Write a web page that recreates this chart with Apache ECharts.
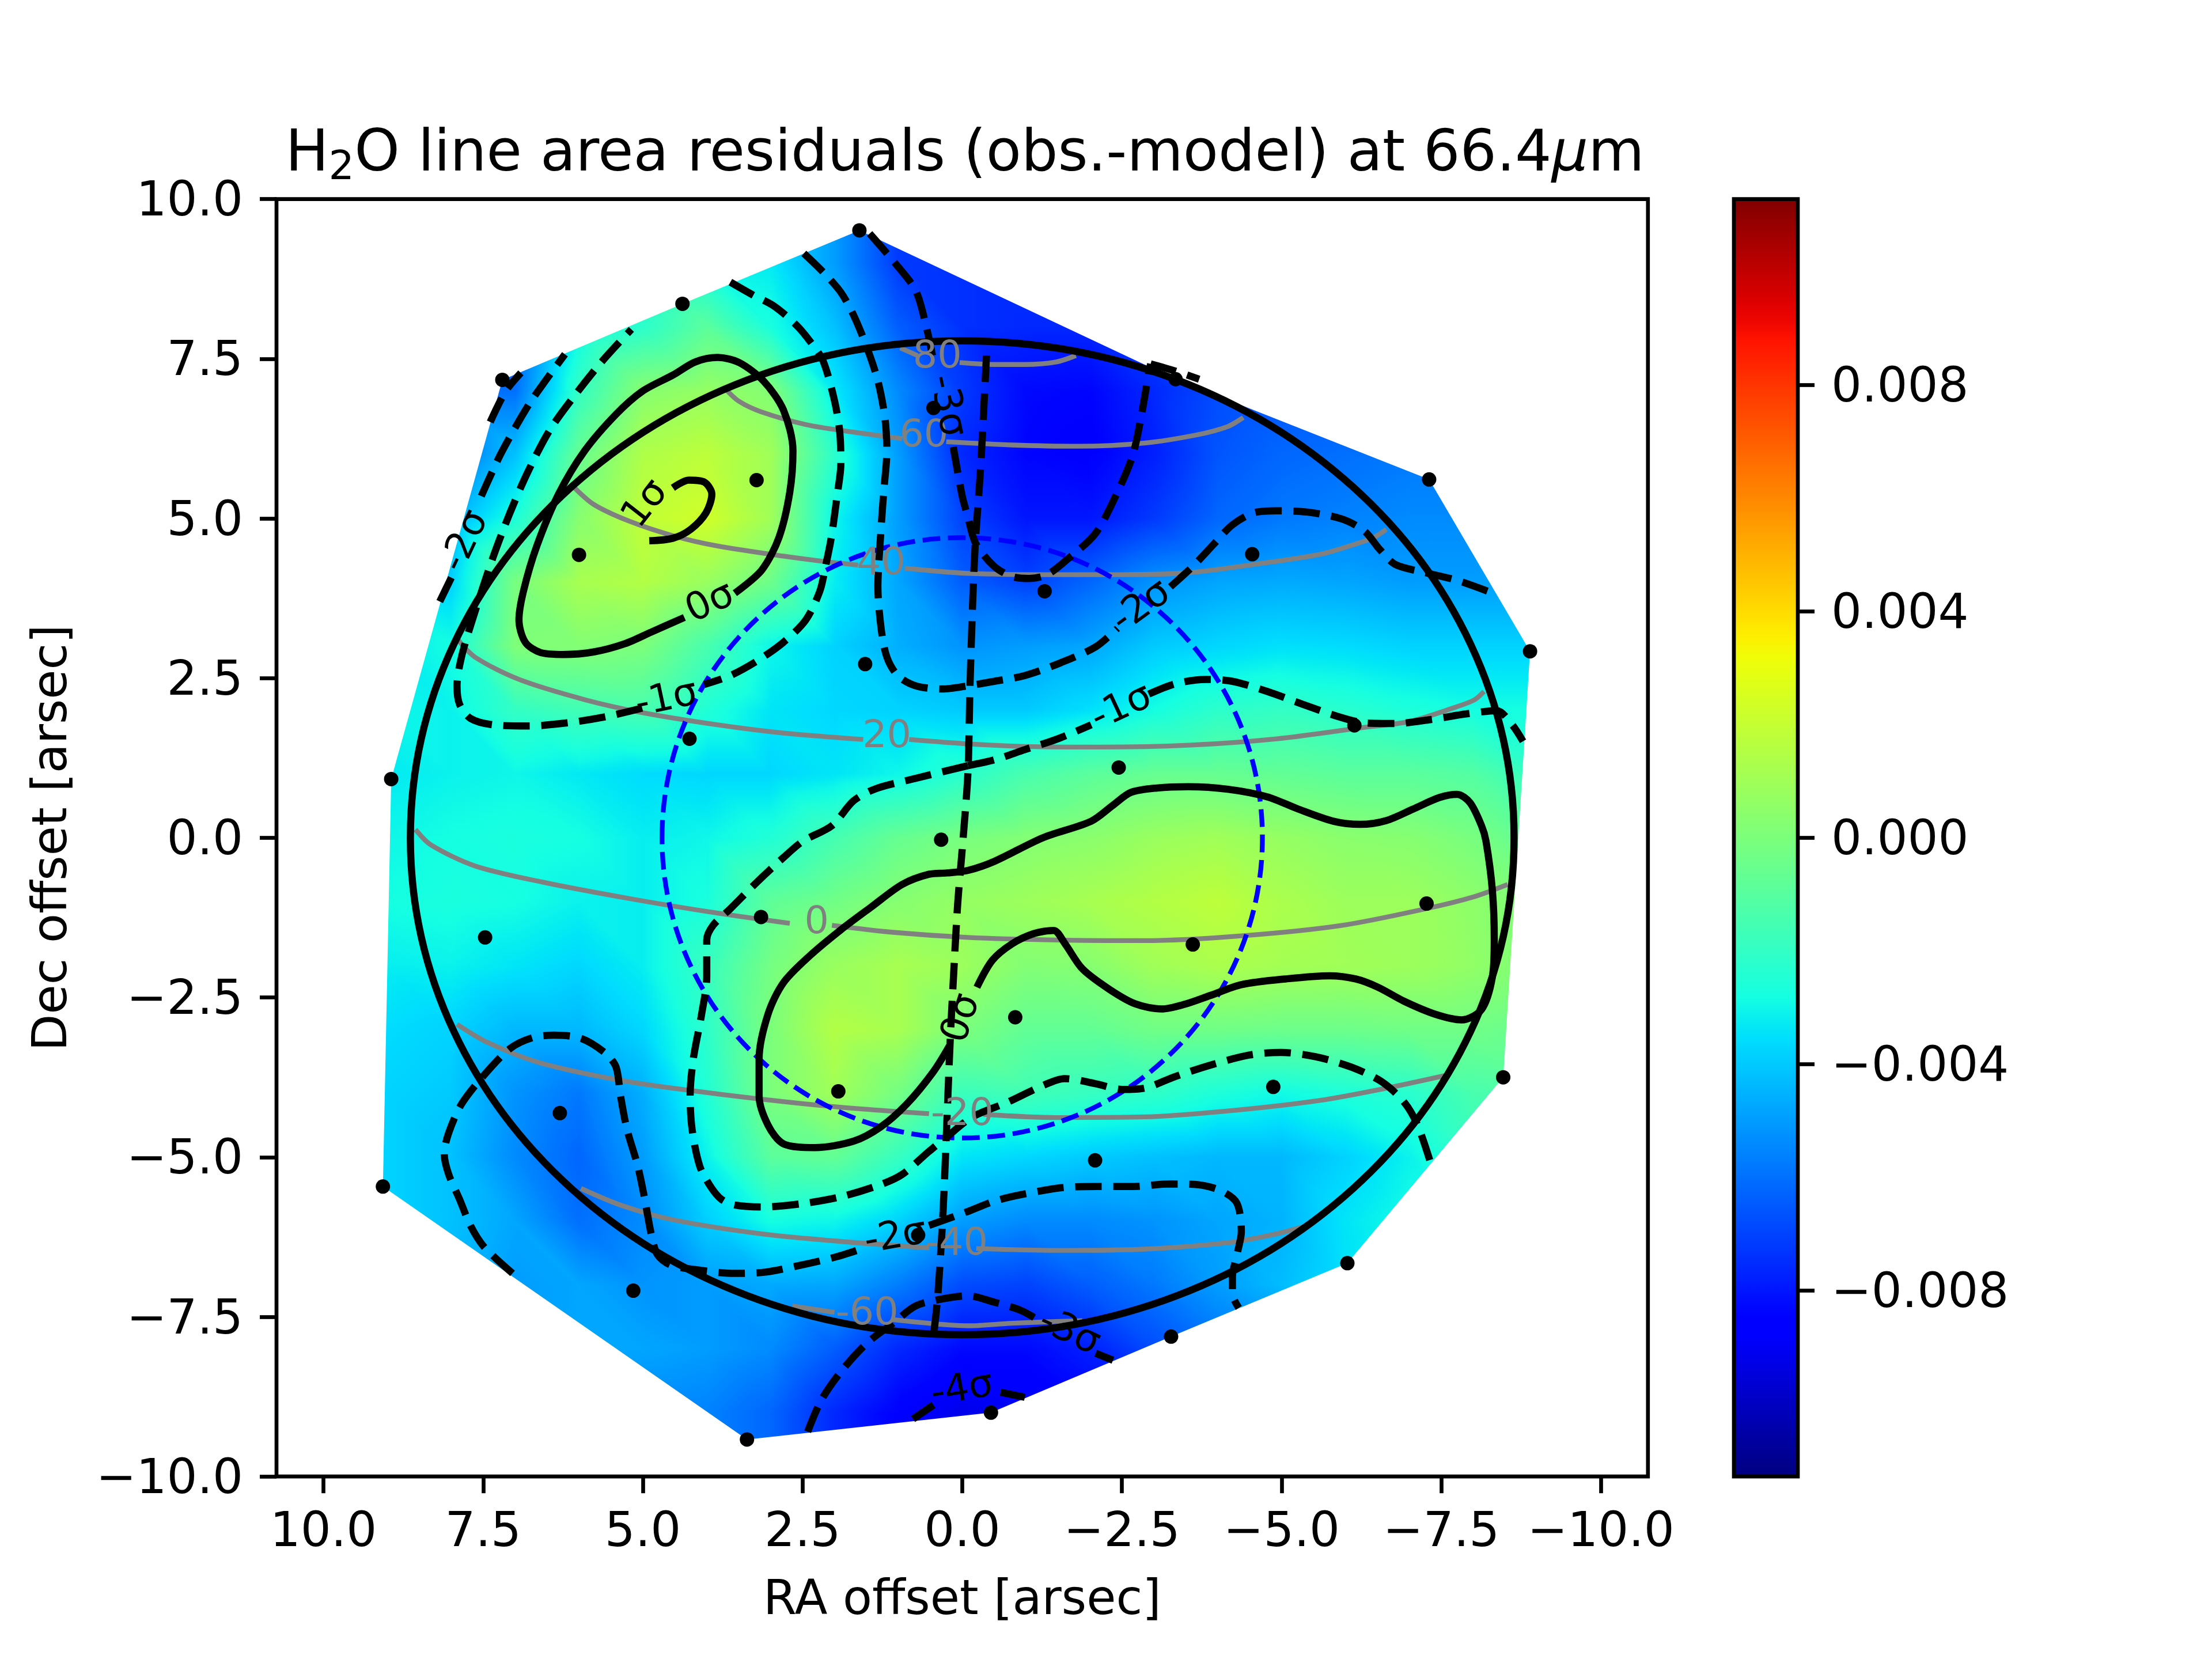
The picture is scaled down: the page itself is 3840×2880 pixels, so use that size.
<!DOCTYPE html>
<html lang="en">
<head>
    <title>H2O line area residuals</title>
    <meta charset="utf-8">
    <style>
        html, body { margin: 0; padding: 0; background: #fff; }
        #chart { width: 3840px; height: 2880px; }
    </style>
    <script src="https://cdn.jsdelivr.net/npm/echarts@6/dist/echarts.min.js"></script>
</head>
<body>
    <div id="chart"></div>
    <script type="text/javascript">
        var axisTicks = [10, 7.5, 5, 2.5, 0, -2.5, -5, -7.5, -10];
        var colorTicks = [0.008, 0.004, 0, -0.004, -0.008];
        var colorLimit = 0.01129;
        var xLimit = 10.736;
        var yLimit = 10;

        //field, units of 1e-4, rows y=10..-10, columns x=10..-10
        var fieldX = [10, 9, 8, 7, 6, 5, 4, 3, 2, 1, 0, -1, -2, -3, -4, -5, -6, -7, -8, -9, -10];
        var fieldY = [10, 9, 8, 7, 6, 5, 4, 3, 2, 1, 0, -1, -2, -3, -4, -5, -6, -7, -8, -9, -10];
        var fieldValues = [
            [-28,-28,-28,-28,-28,-28,-30,-33,-50,-72,-74,-74,-74,-74,-74,-74,-74,-74,-74,-74,-74],
            [-28,-28,-28,-28,-28,-28,-30,-33,-50,-72,-74,-74,-74,-74,-74,-74,-74,-74,-74,-74,-74],
            [-65,-65,-65,-65,-30,-22,-9,-27,-42,-64,-74,-76,-76,-70,-70,-70,-70,-70,-70,-70,-70],
            [-60,-60,-60,-60,-20,3,7,2,-33,-54,-72,-83,-84,-76,-68,-66,-66,-66,-66,-66,-66],
            [-60,-60,-60,-42,-6,14,18,10,-22,-50,-76,-84,-86,-78,-66,-62,-60,-58,-58,-58,-58],
            [-50,-50,-45,-26,3,19,23,10,-30,-50,-70,-80,-80,-72,-62,-58,-56,-54,-54,-54,-54],
            [-35,-35,-38,-1,12,15,8,-4,-32,-48,-64,-70,-62,-52,-48,-47,-48,-50,-50,-48,-48],
            [-33,-33,-28,1,2,0,-14,-30,-38,-46,-52,-50,-48,-40,-37,-35,-36,-38,-38,-38,-38],
            [-30,-30,-31,-20,-16,-14,-25,-34,-37,-38,-40,-40,-35,-28,-22,-20,-23,-26,-28,-28,-28],
            [-33,-33,-31,-30,-33,-36,-37,-37,-34,-30,-23,-14,-9,-6,-6,-7,-9,-9,-11,-20,-20],
            [-30,-30,-28,-27,-28,-32,-30,-25,-15,-6,-1,2,4,8,10,7,4,3,-1,-8,-8],
            [-28,-28,-27,-28,-31,-32,-27,-8,-3,3,7,9,12,15,18,13,9,9,5,0,0],
            [-32,-32,-31,-34,-37,-32,-19,-2,8,12,9,2,3,10,13,11,10,9,6,0,0],
            [-36,-36,-38,-44,-44,-37,-22,0,15,12,0,-7,-7,-3,-3,-4,-4,-3,-3,-6,-6],
            [-38,-38,-40,-52,-58,-46,-25,0,10,-2,-18,-16,-19,-21,-26,-29,-26,-23,-14,-12,-12],
            [-38,-38,-42,-54,-62,-50,-31,-9,-7,-19,-34,-37,-40,-42,-44,-44,-38,-31,-20,-20,-20],
            [-38,-38,-42,-48,-60,-54,-39,-28,-30,-38,-50,-54,-54,-52,-48,-45,-34,-28,-25,-25,-25],
            [-45,-45,-45,-50,-48,-52,-50,-47,-48,-57,-68,-70,-64,-58,-50,-43,-35,-30,-28,-28,-28],
            [-48,-48,-48,-48,-48,-48,-50,-54,-64,-76,-83,-83,-78,-68,-60,-55,-50,-50,-50,-50,-50],
            [-56,-56,-56,-56,-56,-56,-56,-62,-76,-86,-92,-90,-85,-80,-75,-70,-70,-70,-70,-70,-70],
            [-56,-56,-56,-56,-56,-56,-56,-62,-76,-86,-92,-90,-85,-80,-75,-70,-70,-70,-70,-70,-70]
        ];

        var fibrePoints = [
            [1.61,9.51],[4.38,8.36],[7.20,7.17],[3.22,5.60],[6.00,4.43],[1.52,2.72],[4.27,1.55],[8.94,0.92],[0.45,6.73],[0.33,-0.03],
            [-7.31,5.61],[-4.54,4.44],[-1.29,3.86],[-3.34,7.18],[-8.89,2.92],[-6.14,1.76],[-2.45,1.10],
            [7.47,-1.56],[3.15,-1.24],[6.30,-4.31],[9.07,-5.46],[1.94,-3.97],[5.15,-7.09],[3.37,-9.42],[0.69,-6.22],
            [-7.27,-1.03],[-3.61,-1.67],[-0.83,-2.81],[-4.87,-3.90],[-8.47,-3.75],[-2.08,-5.05],[-6.03,-6.66],[-3.27,-7.81],[-0.45,-9.00]
        ];
        var hullPoints = [
            [1.61,9.51],[-3.34,7.18],[-7.31,5.61],[-8.89,2.92],[-8.47,-3.75],[-6.03,-6.66],[-3.27,-7.81],[-0.45,-9.00],[3.37,-9.42],[9.07,-5.46],[8.94,0.92],[7.20,7.17],[4.38,8.36]
        ];
        var limbEllipse = [8.64, 7.78];
        var beamCircle = [4.7, 4.7];

        var solidContours = [
            [[3.56,3.83],[3.14,4.19],[2.87,4.70],[2.70,5.41],[2.65,6.06],[2.80,6.70],[3.11,7.15],[3.49,7.44],[3.83,7.52],[4.18,7.45],[4.52,7.25],[5.01,6.99],[5.42,6.63],[5.91,6.06],[6.32,5.38],[6.66,4.57],[6.87,3.86],[6.94,3.41],[6.84,3.06],[6.60,2.90],[6.25,2.87],[5.77,2.91],[5.28,3.04],[4.87,3.22],[4.35,3.45]],
            [[4.53,5.48],[4.28,5.60],[4.04,5.57],[3.92,5.38],[4.01,5.09],[4.25,4.83],[4.53,4.69],[4.90,4.65]],
            [[0.19,-3.24],[0.45,-3.66],[0.87,-4.17],[1.28,-4.53],[1.70,-4.75],[2.31,-4.85],[2.80,-4.79],[3.04,-4.50],[3.18,-4.04],[3.18,-3.46],[3.04,-2.76],[2.80,-2.27],[2.39,-1.85],[1.90,-1.44],[1.42,-1.08],[0.94,-0.73],[0.52,-0.57],[0.24,-0.55],[-0.09,-0.51],[-0.50,-0.37],[-1.26,0.00],[-2.02,0.26],[-2.36,0.51],[-2.64,0.71],[-3.05,0.78],[-3.54,0.80],[-4.16,0.76],[-4.78,0.64],[-5.26,0.45],[-5.81,0.26],[-6.23,0.21],[-6.64,0.27],[-7.06,0.45],[-7.47,0.63],[-7.75,0.68],[-7.95,0.55],[-8.13,0.19],[-8.20,-0.05],[-8.30,-0.82],[-8.33,-1.60],[-8.30,-2.18],[-8.13,-2.69],[-7.82,-2.85],[-7.40,-2.76],[-6.92,-2.56],[-6.51,-2.34],[-6.16,-2.21],[-5.75,-2.16],[-5.06,-2.21],[-4.37,-2.30],[-3.88,-2.47],[-3.47,-2.61],[-3.12,-2.68],[-2.71,-2.60],[-2.30,-2.37],[-1.88,-2.05],[-1.61,-1.66],[-1.43,-1.45],[-1.12,-1.50],[-0.78,-1.66],[-0.47,-1.92],[-0.23,-2.34]]
        ];
        var dashedContours = [
            //-1 sigma upper left
            [[3.63,8.70],[3.28,8.50],[2.94,8.32],[2.59,8.02],[2.35,7.73],[2.18,7.47],[2.01,6.89],[1.92,6.38],[1.90,5.86],[1.96,5.35],[2.05,4.70],[2.14,4.25],[2.23,3.86],[2.45,3.41],[2.80,3.06],[3.21,2.77],[3.63,2.54],[4.04,2.40]],
            [[5.01,2.03],[5.56,1.90],[6.18,1.80],[6.80,1.75],[7.35,1.77],[7.70,1.87],[7.87,2.09],[7.91,2.38],[7.84,2.83],[7.67,3.41],[7.35,4.38],[7.08,5.09],[6.80,5.73],[6.46,6.38],[6.04,6.96],[5.63,7.47],[5.18,7.96]],
            //-2 sigma upper left and corner
            [[8.18,3.70],[7.99,4.09]],
            [[7.53,5.35],[7.22,6.02],[6.80,6.76],[6.53,7.15],[6.22,7.57]],
            [[7.39,6.51],[7.15,6.99],[6.91,7.28]],
            //-2 sigma top and right
            [[2.48,9.15],[2.18,8.86],[1.90,8.54],[1.70,8.18],[1.49,7.67],[1.32,7.15],[1.21,6.57],[1.18,6.06],[1.23,5.41],[1.28,4.70],[1.32,3.93],[1.27,3.28],[1.18,2.83],[1.01,2.54],[0.73,2.38],[0.31,2.33],[-0.09,2.38],[-0.50,2.45],[-0.98,2.54],[-1.54,2.74],[-2.09,2.99],[-2.43,3.28]],
            [[-3.26,3.93],[-3.61,4.25],[-3.95,4.61],[-4.23,4.90],[-4.57,5.09],[-4.92,5.12],[-5.40,5.10],[-5.95,4.99],[-6.30,4.80],[-6.54,4.51],[-6.78,4.28],[-7.26,4.15],[-7.75,4.03],[-8.23,3.86]],
            //-3 sigma top
            [[1.45,9.46],[1.07,9.02],[0.73,8.57],[0.56,7.99],[0.45,7.47]],
            [[0.14,6.12],[0.00,5.35],[-0.09,5.02],[-0.21,4.61],[-0.50,4.25],[-0.78,4.09],[-1.05,4.06],[-1.33,4.12],[-1.67,4.38],[-2.09,4.77],[-2.43,5.41],[-2.67,5.99],[-2.81,6.64],[-2.92,7.28],[-2.95,7.42]],
            [[-2.95,7.42],[-3.33,7.31],[-3.71,7.18]],
            //meridian
            [[-0.38,7.55],[-0.33,6.57],[-0.28,5.67],[-0.21,4.70],[-0.17,3.86],[-0.12,2.32],[-0.09,1.03],[0.00,-0.18],[0.07,-1.02],[0.14,-2.24],[0.19,-3.21],[0.25,-4.69],[0.30,-5.85],[0.38,-7.14],[0.44,-7.72]],
            //-1 sigma right and centre
            [[-0.09,1.13],[-0.50,1.22],[-0.98,1.38],[-1.47,1.54],[-2.02,1.77]],
            [[-2.92,2.25],[-3.33,2.41],[-3.81,2.48],[-4.23,2.45],[-4.78,2.29],[-5.33,2.09],[-5.88,1.90],[-6.30,1.80],[-6.78,1.79],[-7.33,1.85],[-7.89,1.94],[-8.37,1.99],[-8.61,1.77],[-8.78,1.51]],
            [[-0.09,1.13],[0.73,0.93],[1.35,0.77],[1.70,0.58],[2.04,0.19],[2.49,-0.05],[2.80,-0.31],[3.21,-0.69],[3.63,-1.11],[3.90,-1.37],[4.00,-1.60],[4.00,-2.18],[4.08,-2.76],[4.21,-3.46],[4.26,-4.04],[4.23,-4.56],[4.11,-5.14],[3.94,-5.46],[3.77,-5.66],[3.56,-5.75],[3.14,-5.78],[2.52,-5.73],[1.90,-5.62],[1.28,-5.43],[0.94,-5.27],[0.52,-4.91],[0.25,-4.69],[-0.16,-4.37],[-0.71,-4.14],[-1.26,-3.88],[-1.60,-3.77],[-2.09,-3.85],[-2.50,-3.94],[-2.85,-3.92],[-3.33,-3.74],[-3.88,-3.56],[-4.50,-3.40],[-4.99,-3.36],[-5.54,-3.43],[-6.09,-3.59],[-6.57,-3.82],[-6.92,-4.14],[-7.13,-4.50],[-7.33,-5.08]],
            //-2 sigma lower
            [[7.04,-6.82],[7.49,-6.40],[7.70,-6.07],[7.87,-5.66],[8.04,-5.27],[8.11,-4.95],[8.04,-4.62],[7.84,-4.17],[7.49,-3.72],[7.08,-3.30],[6.73,-3.13],[6.39,-3.09],[5.97,-3.14],[5.59,-3.37],[5.42,-3.59],[5.35,-4.04],[5.25,-4.56],[5.08,-5.14],[4.97,-5.66],[4.87,-6.20],[4.77,-6.53],[4.56,-6.69],[4.18,-6.76],[3.56,-6.82],[3.08,-6.80],[2.52,-6.69],[1.97,-6.56],[1.56,-6.43]],
            [[0.52,-6.07],[-0.09,-5.85],[-0.50,-5.69],[-0.91,-5.59],[-1.54,-5.48],[-2.09,-5.46],[-2.64,-5.46],[-3.26,-5.42],[-3.68,-5.43],[-4.06,-5.53],[-4.30,-5.72],[-4.37,-6.17],[-4.31,-6.49],[-4.23,-6.88],[-4.23,-7.14],[-4.33,-7.36]],
            //-3 sigma bottom
            [[2.42,-9.30],[2.21,-8.81],[1.90,-8.36],[1.49,-7.91],[1.07,-7.59],[0.73,-7.33],[0.31,-7.22],[-0.09,-7.17],[-0.50,-7.27],[-0.92,-7.40],[-1.26,-7.59]],
            [[-2.09,-8.07],[-2.36,-8.18]],
            //-4 sigma
            [[0.77,-9.10],[0.45,-8.88]],
            [[-0.60,-8.68],[-0.98,-8.76]]
        ];
        var latitudeLines = [
            [[0.97,7.67],[0.70,7.55]],
            [[0.04,7.44],[-0.50,7.41],[-0.98,7.41],[-1.47,7.45],[-1.78,7.55]],
            [[3.70,7.02],[3.49,6.83],[3.15,6.67],[2.45,6.47],[1.77,6.36],[0.94,6.25]],
            [[0.25,6.20],[-0.78,6.15],[-1.81,6.13],[-2.85,6.18],[-3.68,6.31],[-4.16,6.44],[-4.40,6.58]],
            [[6.10,5.51],[5.77,5.22],[5.22,4.96],[4.53,4.73],[3.84,4.57],[2.80,4.41],[2.11,4.32],[1.63,4.27]],
            [[0.90,4.22],[-0.09,4.14],[-1.47,4.12],[-2.50,4.12],[-3.54,4.15],[-4.57,4.28],[-5.61,4.44],[-6.16,4.60],[-6.44,4.70],[-6.64,4.83]],
            [[7.91,3.12],[7.63,2.83],[6.94,2.48],[5.90,2.16],[5.01,1.96],[3.84,1.77],[2.80,1.64],[1.55,1.54]],
            [[0.83,1.54],[-0.09,1.47],[-0.98,1.43],[-2.16,1.42],[-3.54,1.45],[-4.92,1.55],[-6.30,1.73],[-7.00,1.82],[-7.68,2.03],[-8.02,2.16],[-8.17,2.29]],
            [[8.56,0.13],[8.32,-0.11],[7.63,-0.44],[6.59,-0.69],[5.22,-0.95],[3.83,-1.18],[2.70,-1.34]],
            [[2.04,-1.37],[1.08,-1.48],[-0.09,-1.56],[-1.47,-1.60],[-2.85,-1.61],[-4.43,-1.53],[-5.95,-1.37],[-7.26,-1.11],[-8.02,-0.92],[-8.54,-0.73]],
            [[7.91,-2.92],[7.42,-3.21],[6.59,-3.53],[5.22,-3.82],[3.83,-4.01],[2.11,-4.20],[0.52,-4.32]],
            [[-0.33,-4.33],[-1.47,-4.38],[-2.85,-4.37],[-4.23,-4.27],[-5.61,-4.11],[-6.64,-3.92],[-7.57,-3.72]],
            [[5.97,-5.49],[5.35,-5.75],[4.53,-5.98],[3.15,-6.20],[1.77,-6.33],[0.52,-6.42]],
            [[-0.22,-6.43],[-1.47,-6.46],[-2.85,-6.44],[-4.23,-6.33],[-4.92,-6.20],[-5.40,-6.07]],
            [[2.66,-7.33],[2.00,-7.43]],
            [[1.11,-7.54],[-0.09,-7.64],[-0.78,-7.60],[-1.88,-7.56]]
        ];
        var sigmaLabels = [
            [3.94,3.67,"0σ",25],[4.95,5.22,"1σ",52],[4.63,2.16,"-1σ",12],[7.77,4.64,"-2σ",65],[0.25,6.76,"-3σ",-78],
            [-2.81,3.61,"-2σ",36],[-2.50,2.03,"-1σ",25],[0.00,-2.83,"0σ",72],[1.04,-6.26,"-2σ",10],[-1.67,-7.75,"-3σ",-25],[0.00,-8.65,"-4σ",10]
        ];
        var latitudeLabels = [
            [0.39,7.52,"80",0],[0.60,6.28,"60",0],[1.27,4.28,"40",0],[1.18,1.58,"20",0],[2.28,-1.34,"0",0],
            [0.00,-4.34,"-20",0],[0.09,-6.37,"-40",0],[1.49,-7.46,"-60",0]
        ];

        var FONT = "DejaVu Sans";

        function jetChannel(t, pts) {
            for (var i = 1; i < pts.length; i++) {
                if (t <= pts[i][0]) {
                    return pts[i - 1][1] + (pts[i][1] - pts[i - 1][1]) * (t - pts[i - 1][0]) / (pts[i][0] - pts[i - 1][0]);
                }
            }
            return pts[pts.length - 1][1];
        }
        var JET_R = [[0, 0], [0.35, 0], [0.66, 1], [0.89, 1], [1, 0.5]];
        var JET_G = [[0, 0], [0.125, 0], [0.375, 1], [0.64, 1], [0.91, 0], [1, 0]];
        var JET_B = [[0, 0.5], [0.11, 1], [0.34, 1], [0.65, 0], [1, 0]];
        function jet(t) {
            t = Math.max(0, Math.min(1, t));
            return "rgb(" + Math.round(255 * jetChannel(t, JET_R)) + "," + Math.round(255 * jetChannel(t, JET_G)) + "," + Math.round(255 * jetChannel(t, JET_B)) + ")";
        }
        function fieldColor(v) {
            return jet((v * 1e-4 + colorLimit) / (2 * colorLimit));
        }

        //triangle with a linear gradient along its value slope
        function shadedTriangle(p, v) {
            var lo = 0, hi = 0;
            for (var k = 1; k < 3; k++) {
                if (v[k] < v[lo]) lo = k;
                if (v[k] > v[hi]) hi = k;
            }
            var fill;
            if (v[hi] === v[lo]) {
                fill = fieldColor(v[lo]);
            } else {
                var ax = p[1][0] - p[0][0], ay = p[1][1] - p[0][1];
                var bx = p[2][0] - p[0][0], by = p[2][1] - p[0][1];
                var dv1 = v[1] - v[0], dv2 = v[2] - v[0];
                var det = ax * by - ay * bx;
                var gx = (dv1 * by - dv2 * ay) / det;
                var gy = (ax * dv2 - bx * dv1) / det;
                var span = (v[hi] - v[lo]) / (gx * gx + gy * gy);
                var stops = [];
                for (var s = 0; s <= 6; s++) {
                    stops.push({ offset: s / 6, color: fieldColor(v[lo] + (v[hi] - v[lo]) * s / 6) });
                }
                fill = new echarts.graphic.LinearGradient(p[lo][0], p[lo][1], p[lo][0] + gx * span, p[lo][1] + gy * span, stops, true);
            }
            return { type: "polygon", silent: true, shape: { points: p }, style: { fill: fill, stroke: fill, lineWidth: 1.5 } };
        }

        var fieldCells = [];
        for (var row = 0; row < fieldY.length - 1; row++) {
            for (var col = 0; col < fieldX.length - 1; col++) {
                fieldCells.push([fieldX[col], fieldY[row], col, row]);
            }
        }

        function renderCell(params, api) {
            var c = api.value(2), r = api.value(3);
            var p00 = api.coord([fieldX[c], fieldY[r]]);
            var p10 = api.coord([fieldX[c + 1], fieldY[r]]);
            var p01 = api.coord([fieldX[c], fieldY[r + 1]]);
            var p11 = api.coord([fieldX[c + 1], fieldY[r + 1]]);
            var v00 = fieldValues[r][c], v10 = fieldValues[r][c + 1], v01 = fieldValues[r + 1][c], v11 = fieldValues[r + 1][c + 1];
            return {
                type: "group",
                children: [
                    shadedTriangle([p00, p10, p11], [v00, v10, v11]),
                    shadedTriangle([p00, p11, p01], [v00, v11, v01])
                ]
            };
        }

        //white everywhere outside the hull
        function renderMask(params, api) {
            var corners = [[xLimit, yLimit], [xLimit, -yLimit], [-xLimit, -yLimit], [-xLimit, yLimit], [xLimit, yLimit]];
            var pts = corners.concat(hullPoints).concat([hullPoints[0], corners[0]]).map(function (d) { return api.coord(d); });
            return { type: "polygon", silent: true, shape: { points: pts }, style: { fill: "#fff" } };
        }

        function ellipseSeries(radii, color, width, dash, z) {
            return {
                type: "custom", z: z, silent: true, data: [[0, 0]],
                renderItem: function (params, api) {
                    var c = api.coord([0, 0]);
                    var e = api.coord([radii[0], radii[1]]);
                    return {
                        type: "ellipse",
                        shape: { cx: c[0], cy: c[1], rx: Math.abs(e[0] - c[0]), ry: Math.abs(e[1] - c[1]) },
                        style: { fill: "none", stroke: color, lineWidth: width, lineDash: dash }
                    };
                }
            };
        }

        function lineSeries(segments, color, width, dash, z) {
            return segments.map(function (seg) {
                return {
                    type: "line", data: seg, z: z, smooth: 0.3, showSymbol: false, silent: true,
                    lineStyle: { color: color, width: width, type: dash, cap: "butt" }
                };
            });
        }

        function textSeries(labels, color, z) {
            return {
                type: "custom", z: z, silent: true,
                data: labels.map(function (d) { return [d[0], d[1]]; }),
                renderItem: function (params, api) {
                    var p = api.coord([api.value(0), api.value(1)]);
                    var d = labels[params.dataIndex];
                    return {
                        type: "text", x: p[0], y: p[1], rotation: d[3] * Math.PI / 180,
                        style: { text: d[2], fill: color, fontSize: 66.67, fontFamily: FONT, align: "center", verticalAlign: "middle" }
                    };
                }
            };
        }

        //axes frame drawn over the mask
        function frameSeries(xIdx, yIdx, x0, x1, y0, y1) {
            return {
                type: "custom", z: 20, silent: true, xAxisIndex: xIdx, yAxisIndex: yIdx, data: [[x0, y0]],
                renderItem: function (params, api) {
                    var a = api.coord([x0, y1]), b = api.coord([x1, y0]);
                    return {
                        type: "rect",
                        shape: { x: a[0], y: a[1], width: b[0] - a[0], height: b[1] - a[1] },
                        style: { fill: "none", stroke: "#000", lineWidth: 6.67 }
                    };
                }
            };
        }

        function tickText(v, digits) {
            return v.toFixed(digits).replace("-", "\u2212");
        }

        var tickFont = { color: "#000", fontSize: 83.3, fontFamily: FONT };
        //labels of the vertical axes sit a little lower than ECharts centres them
        var yTickRich = {
            v: { color: "#000", fontSize: 83.3, fontFamily: FONT, lineHeight: 97, verticalAlign: "top", padding: [14, 0, 0, 0] }
        };

        var series = [
            { type: "custom", z: 1, silent: true, progressive: 0, data: fieldCells, renderItem: renderCell },
            { type: "custom", z: 2, silent: true, data: [[0, 0]], renderItem: renderMask },
            {
                type: "custom", z: 2, silent: true, xAxisIndex: 1, yAxisIndex: 1, data: [[0, 0]],
                renderItem: function (params, api) {
                    var a = api.coord([0, colorLimit]), b = api.coord([1, -colorLimit]);
                    var stops = [];
                    for (var i = 0; i <= 64; i++) {
                        stops.push({ offset: i / 64, color: jet(1 - i / 64) });
                    }
                    return {
                        type: "rect",
                        shape: { x: a[0], y: a[1], width: b[0] - a[0], height: b[1] - a[1] },
                        style: { fill: new echarts.graphic.LinearGradient(0, 0, 0, 1, stops) }
                    };
                }
            }
        ];
        series = series.concat(lineSeries(latitudeLines, "#808080", 8.33, "solid", 3));
        series.push(ellipseSeries(beamCircle, "#0000ff", 8.33, [30.8, 13.3], 4));
        series = series.concat(lineSeries(solidContours, "#000", 12.5, "solid", 5));
        series = series.concat(lineSeries(dashedContours, "#000", 12.5, [46, 20], 5));
        series.push(ellipseSeries(limbEllipse, "#000", 12.5, null, 5));
        series.push({
            type: "scatter", z: 6, silent: true, data: fibrePoints, symbolSize: 25,
            itemStyle: { color: "#000", opacity: 1 }
        });
        series.push(textSeries(latitudeLabels, "#808080", 7));
        series.push(textSeries(sigmaLabels, "#000", 7));
        series.push(frameSeries(0, 0, -xLimit, xLimit, -yLimit, yLimit));
        series.push(frameSeries(1, 1, 0, 1, -colorLimit, colorLimit));

        var option = {
            animation: false,
            backgroundColor: "#fff",
            title: {
                left: 1670, top: 193, textAlign: "center",
                text: "{a|H}{s|2}{a|O line area residuals (obs.-model) at 66.4}{i|\u03bc}{a|m}",
                textStyle: {
                    fontWeight: "normal",
                    rich: {
                        a: { fontSize: 100, fontFamily: FONT, fontWeight: "normal", color: "#000", lineHeight: 130, verticalAlign: "bottom", padding: [0, 0, 8, 0] },
                        i: { fontSize: 100, fontFamily: FONT, fontWeight: "normal", fontStyle: "italic", color: "#000", lineHeight: 130, verticalAlign: "bottom", padding: [0, 0, 8, 0] },
                        s: { fontSize: 70, fontFamily: FONT, fontWeight: "normal", color: "#000", lineHeight: 130, verticalAlign: "bottom" }
                    }
                }
            },
            grid: [
                { left: 480, top: 345.6, width: 2380.8, height: 2217.6 },
                { left: 3010, top: 345.6, width: 111, height: 2217.6 }
            ],
            xAxis: [
                {
                    type: "value", inverse: true, min: -xLimit, max: xLimit,
                    name: "RA offset [arsec]", nameLocation: "middle", nameGap: 176,
                    nameTextStyle: tickFont,
                    axisLine: { show: false, onZero: false }, splitLine: { show: false },
                    axisTick: { show: true, length: 29, customValues: axisTicks, lineStyle: { color: "#000", width: 6.67 } },
                    axisLabel: Object.assign({ margin: 58, customValues: axisTicks, formatter: function (v) { return tickText(v, 1); } }, tickFont)
                },
                { gridIndex: 1, type: "value", min: 0, max: 1, show: false }
            ],
            yAxis: [
                {
                    type: "value", min: -yLimit, max: yLimit,
                    name: "Dec offset [arsec]", nameLocation: "middle", nameGap: 345, nameRotate: 90,
                    nameTextStyle: tickFont,
                    axisLine: { show: false, onZero: false }, splitLine: { show: false },
                    axisTick: { show: true, length: 29, customValues: axisTicks, lineStyle: { color: "#000", width: 6.67 } },
                    axisLabel: { margin: 58, rich: yTickRich, customValues: axisTicks, formatter: function (v) { return "{v|" + tickText(v, 1) + "}"; } }
                },
                {
                    gridIndex: 1, type: "value", position: "right", min: -colorLimit, max: colorLimit,
                    axisLine: { show: false, onZero: false }, splitLine: { show: false },
                    axisTick: { show: true, length: 29, customValues: colorTicks, lineStyle: { color: "#000", width: 6.67 } },
                    axisLabel: { margin: 58, rich: yTickRich, customValues: colorTicks, formatter: function (v) { return "{v|" + tickText(v, 3) + "}"; } }
                }
            ],
            series: series
        };

        var mychart = echarts.init(document.getElementById("chart"), null, { renderer: "canvas" });
        mychart.setOption(option);
    </script>
</body>
</html>
